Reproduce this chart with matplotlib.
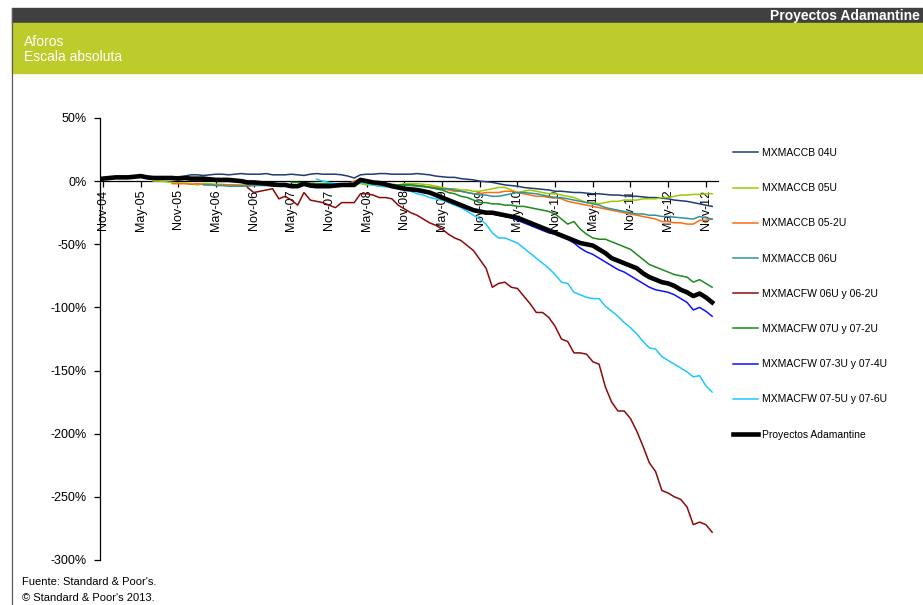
import matplotlib
matplotlib.use("Agg")
import matplotlib.pyplot as plt
from matplotlib.lines import Line2D
from matplotlib.patches import Rectangle
import numpy as np

plt.rcParams['font.family'] = ['Liberation Sans', 'DejaVu Sans']

# months counted from Nov-04 (month 0), monthly data up to Dec-12
tick_months = list(range(0, 97, 6))
tick_labels = ["Nov-04", "May-05", "Nov-05", "May-06", "Nov-06", "May-07", "Nov-07",
               "May-08", "Nov-08", "May-09", "Nov-09", "May-10", "Nov-10", "May-11",
               "Nov-11", "May-12", "Nov-12"]

y_ticks = [50, 0, -50, -100, -150, -200, -250, -300]

names = ["MXMACCB 04U", "MXMACCB 05U", "MXMACCB 05-2U", "MXMACCB 06U",
         "MXMACFW 06U y 06-2U", "MXMACFW 07U y 07-2U", "MXMACFW 07-3U y 07-4U",
         "MXMACFW 07-5U y 07-6U", "Proyectos Adamantine"]

# first month of each series
starts = [0, 8, 11, 16, 23, 30, 36, 34, 0]

mxmaccb_04u = [2, 2, 2.5, 3, 3, 3.5, 3.5, 3, 3, 3,
               3, 3.5, 3.5, 4, 5, 5, 4.5, 5, 5.5, 5.5,
               5, 5.5, 6, 5.5, 5.5, 5.5, 6, 5, 5, 5,
               5.5, 5, 4.5, 5.5, 6, 5.5, 5.5, 5.5, 5, 4,
               2.5, 5, 5.5, 5.5, 6, 6, 5.5, 5.5, 5.5, 5.5,
               6, 5.5, 5, 4, 3.5, 3, 3, 2, 1.5, 1,
               0, -0.5, -1, -2, -3, -3.5, -4, -5, -5.5, -6,
               -6.5, -7, -8, -8, -8.5, -9, -9, -9.5, -10, -10,
               -10.5, -11, -11, -11.5, -12, -12, -12.5, -13, -13, -13.5,
               -14, -15, -15.5, -16, -17, -18, -19, -20]

mxmaccb_05u = [0, 0,
               -0.5, -1, -1.5, -1.5, -2, -3, -2, -2, -2.5, -2.5,
               -3, -3, -3, -3, -3, -3, -3, -3, -3.5, -3.5,
               -3, -3, -3, -3, -3, -3, -3, -3, -3, -3,
               -2, -2, -3, -3, -4, -4, -4, -3, -2, -2,
               -2, -2.5, -3, -4, -5, -6, -6, -7, -7, -8,
               -8, -7, -6, -5, -5, -7, -9, -8, -7, -8,
               -9, -10, -10, -11, -12, -13, -15, -17, -17, -18,
               -17, -16, -16, -15, -15, -15, -14, -14, -14, -13,
               -13, -12, -11, -11, -10.5, -10.5, -10, -10]

mxmaccb_05_2u = [-2, -2, -2, -2.5, -2, -2.5, -3, -3, -3,
                 -3, -3, -3.5, -3, -3, -3, -3, -3.5, -3.5, -3.5,
                 -3.5, -3, -3, -3, -3, -3, -3, -3, -2.5, -2,
                 0, 2, 0, -2, -2, -2.5, -3, -3, -3, -3,
                 -3.5, -4, -4.5, -5, -6, -7, -8, -8, -9, -10,
                 -10, -9, -9, -9, -8, -8, -9, -10, -11, -12,
                 -12, -13, -13, -14, -16, -17, -18, -19, -20, -21,
                 -22, -23, -24, -25, -26, -27, -28, -29, -30, -32,
                 -32, -33, -33, -34, -34, -31, -31, -30]

mxmaccb_06u = [-3, -3, -3.5, -3.5,
               -4, -4, -4, -4, -3.5, -3.5, -3.5, -4, -4, -4,
               -4, -3.5, -3.5, -3.5, -3, -3, -3, -3, -2.5, -2,
               -1, 0, -1, -2, -2, -2.5, -3, -3, -3, -3.5,
               -4, -4.5, -5, -5.5, -6, -6, -7, -8, -9, -10,
               -11, -11, -12, -12, -11, -10, -9, -9, -9.5, -10,
               -11, -12, -13, -13, -14, -15, -16, -17, -18, -19,
               -21, -22, -23, -24, -25, -26, -26, -27, -27, -28,
               -28, -28.5, -29, -29.5, -30, -28, -29, -30]

mxmacfw_06u = [-5, -9, -8, -7, -6, -14, -12,
               -15, -19, -9, -15, -16, -17, -19, -21, -17, -17,
               -17, -10, -10, -11, -13, -13, -14, -19, -22, -25,
               -27, -30, -33, -35, -38, -42, -45, -47, -51, -55,
               -62, -69, -84, -81, -80, -84, -85, -91, -97, -104,
               -104, -108, -115, -125, -127, -136, -136, -137, -143, -145,
               -163, -175, -182, -182, -188, -198, -210, -223, -230, -245,
               -247, -250, -252, -258, -272, -270, -272, -278]

mxmacfw_07u = [-1, -1, -1.5, -1.5, -2, -2, -2, -2.5, -3, -3,
               -2, -1, -1, -2, -2, -2, -2.5, -3, -3, -3,
               -3.5, -4, -5, -6, -7, -9, -10, -12, -13, -15,
               -17, -17, -18, -18, -19, -19, -20, -20, -21, -22,
               -23, -24, -26, -30, -34, -32, -38, -42, -45, -46,
               -46, -48, -50, -52, -54, -58, -62, -66, -68, -70,
               -72, -74, -75, -76, -80, -78, -81, -84]

mxmacfw_07_3u = [-4.5, -4, -3.5, -3.5,
                 -3.5, 0.5, -0.5, -1.5, -2, -3, -4.5, -5.5, -6.5, -7,
                 -7.5, -8.5, -9.5, -11.5, -13.5, -15.5, -17.5, -19.5, -21.5, -23,
                 -24, -25, -26, -27, -28, -29, -31, -33, -35, -37,
                 -39, -41, -42, -44, -46, -49, -53, -56, -58, -61,
                 -64, -67, -70, -72, -75, -78, -81, -84, -86, -87,
                 -88, -90, -93, -96, -102, -100, -103, -107]

mxmacfw_07_5u = [1.5, 0, -1, -2, -3, -3,
                 -3, -1, -2, -3, -4, -4.5, -5, -6, -7, -8,
                 -10, -11, -13, -14, -15, -17, -19, -21, -24, -27,
                 -30, -34, -41, -45, -45, -47, -49, -53, -57, -61,
                 -65, -69, -74, -80, -81, -88, -90, -92, -93, -93,
                 -99, -103, -107, -112, -116, -121, -127, -132, -133, -139,
                 -142, -145, -148, -151, -155, -154, -162, -167]

adamantine = [2, 2.5, 3, 3, 3, 3.5, 4, 3, 2.5, 2.5,
              2.5, 2.5, 2, 2.5, 2, 2, 2, 1.5, 1, 1,
              1, 0.5, 0, -1, -1, -1.5, -2, -2.5, -3, -3,
              -4, -4, -2, -3.5, -4, -4, -4, -3.5, -3, -3,
              -3, 1, 0, -1, -1.5, -2.5, -4, -5, -6, -6.5,
              -7, -8, -9, -11, -13, -15, -17, -19, -21, -23,
              -24, -25, -25, -26, -27, -28, -29, -31, -33, -35,
              -37, -39, -41, -43, -45, -47, -49, -50, -51, -54,
              -57, -61, -63, -65, -67, -69, -73, -76, -78, -80,
              -81, -83, -86, -88, -91, -89, -92, -96]

values = [mxmaccb_04u, mxmaccb_05u, mxmaccb_05_2u, mxmaccb_06u, mxmacfw_06u,
          mxmacfw_07u, mxmacfw_07_3u, mxmacfw_07_5u, adamantine]

colors = ["#1F3D6E", "#99CC00", "#FF6A13", "#2F9499", "#8B0A0A",
          "#1A8A1A", "#1010FF", "#1EC8FF", "black"]
widths = [1.1, 1.1, 1.1, 1.1, 1.1, 1.1, 1.1, 1.1, 3.3]

fig = plt.figure(figsize=(9.23, 6.05), dpi=100)
W, H = 923.0, 605.0

# header bars
fig.patches.append(Rectangle((12 / W, 1 - 23 / H), 1, 15 / H, transform=fig.transFigure,
                             color="#404040", zorder=0))
fig.patches.append(Rectangle((12 / W, 1 - 73 / H), 1, 50 / H, transform=fig.transFigure,
                             color="#BDCC2A", zorder=0))
fig.lines.append(Line2D([12 / W, 12 / W], [0, 1 - 8 / H], transform=fig.transFigure,
                        color="#5A5A5A", lw=0.9))
fig.text(920 / W, 1 - 16 / H, "Proyectos Adamantine", ha="right", va="center",
         color="white", fontsize=10, fontweight="bold")
fig.text(24 / W, 1 - 42 / H, "Aforos", ha="left", va="center", color="white", fontsize=10)
fig.text(24 / W, 1 - 57 / H, "Escala absoluta", ha="left", va="center", color="white", fontsize=10)

fig.text(22 / W, 1 - 582 / H, "Fuente: Standard & Poor's.", ha="left", va="center", fontsize=8)
fig.text(22 / W, 1 - 598 / H, "\u00a9 Standard & Poor's 2013.", ha="left", va="center", fontsize=8)

ax = fig.add_axes([99.9 / W, 1 - 560 / H, (718.4 - 99.9) / W, (560 - 118) / H])

handles = []
for i in range(len(names)):
    x = np.arange(len(values[i])) + starts[i]
    line, = ax.plot(x, values[i], color=colors[i], lw=widths[i], label=names[i],
                    solid_joinstyle="round", zorder=3 + i)
    handles.append(line)

ax.set_xlim(-0.5, 98)
ax.set_ylim(-300, 50)

ax.spines["top"].set_visible(False)
ax.spines["right"].set_visible(False)
ax.spines["bottom"].set_position(("data", 0))
ax.spines["bottom"].set_linewidth(0.9)
ax.spines["left"].set_linewidth(0.9)

ax.set_xticks(tick_months)
ax.set_xticklabels(tick_labels, rotation=90, va="top", ha="center")
ax.set_yticks(y_ticks)
ax.set_yticklabels([str(v) + "%" for v in y_ticks])
ax.tick_params(axis="x", direction="out", length=4, width=0.9, pad=2, labelsize=9)
ax.tick_params(axis="y", direction="out", length=4, width=0.9, pad=5.5, labelsize=9)

ax.legend(handles=handles, loc="upper left", bbox_to_anchor=(733 / W, 1 - 148 / H),
          bbox_transform=fig.transFigure, frameon=False, fontsize=7.5,
          handlelength=2.4, handletextpad=0.4, labelspacing=2.42,
          borderpad=0, borderaxespad=0)

fig.savefig("out.png", dpi=100)
